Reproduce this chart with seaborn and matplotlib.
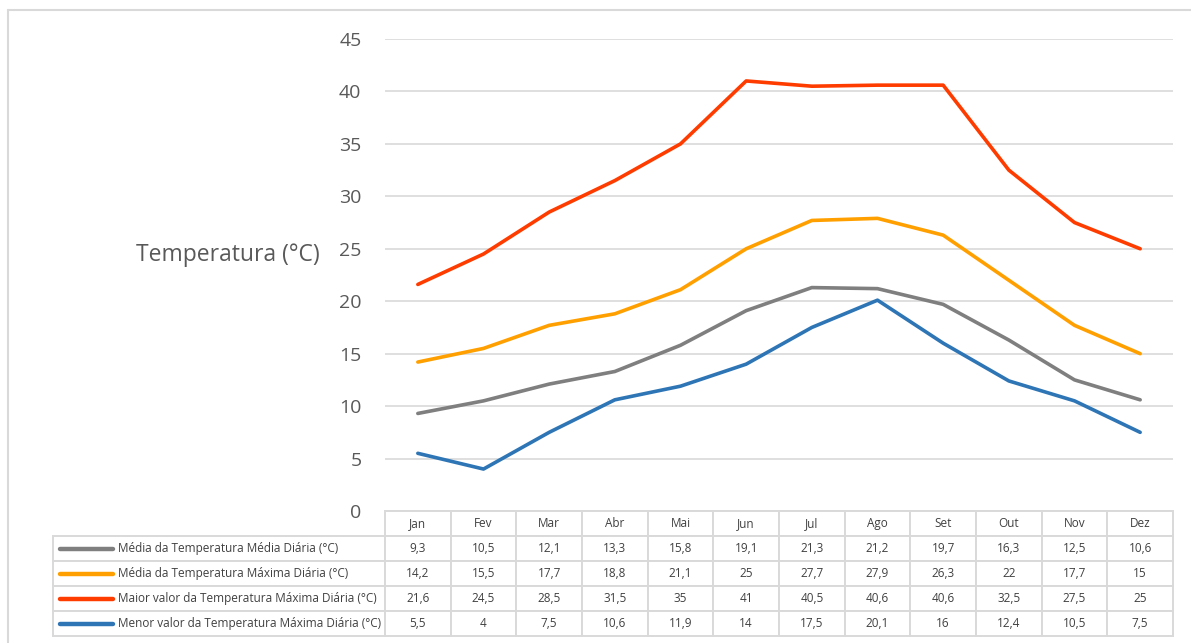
import matplotlib
matplotlib.use('Agg')
import matplotlib.pyplot as plt
import seaborn as sns
import pandas as pd
from matplotlib.lines import Line2D

months = ['Jan', 'Fev', 'Mar', 'Abr', 'Mai', 'Jun', 'Jul', 'Ago', 'Set', 'Out', 'Nov', 'Dez']
media_media = [9.3, 10.5, 12.1, 13.3, 15.8, 19.1, 21.3, 21.2, 19.7, 16.3, 12.5, 10.6]
media_maxima = [14.2, 15.5, 17.7, 18.8, 21.1, 25, 27.7, 27.9, 26.3, 22, 17.7, 15]
maior_maxima = [21.6, 24.5, 28.5, 31.5, 35, 41, 40.5, 40.6, 40.6, 32.5, 27.5, 25]
menor_maxima = [5.5, 4, 7.5, 10.6, 11.9, 14, 17.5, 20.1, 16, 12.4, 10.5, 7.5]

series_names = ['Média da Temperatura Média Diária (°C)',
                'Média da Temperatura Máxima Diária (°C)',
                'Maior valor da Temperatura Máxima Diária (°C)',
                'Menor valor da Temperatura Máxima Diária (°C)']
series_values = [media_media, media_maxima, maior_maxima, menor_maxima]
colors = ['#7f7f7f', '#ffa000', '#ff3c00', '#2e75b6']

sns.set_theme(style='white')
plt.rcParams['font.family'] = ['Open Sans', 'DejaVu Sans']

# long format for seaborn
df = pd.DataFrame({
    'Mes': months * len(series_names),
    'Serie': [n for n in series_names for _ in months],
    'Temp': [v for vals in series_values for v in vals],
})
df['x'] = df['Mes'].map({m: i for i, m in enumerate(months)})

fig = plt.figure(figsize=(11.91, 6.43), dpi=100)
ax = fig.add_axes([385 / 1191, 1 - 511 / 643, 788 / 1191, 472 / 643])

sns.lineplot(data=df, x='x', y='Temp', hue='Serie', hue_order=series_names,
             palette=colors, linewidth=2.6, ax=ax, legend=False, sort=False)

ax.set_xlim(-0.5, 11.5)
ax.set_ylim(0, 45)
ax.set_yticks(range(0, 50, 5))
ax.tick_params(axis='y', labelsize=14, labelcolor='#595959', length=0, pad=17)
ax.set_xticks([])
ax.set_xlabel('')
ax.set_ylabel('Temperatura (°C)', rotation=0, fontsize=16.5, color='#595959', labelpad=0)
ax.yaxis.set_label_coords(-0.2, 0.542)
ax.yaxis.label.set_verticalalignment('center')
ax.yaxis.label.set_horizontalalignment('center')
ax.grid(axis='y', color='#d9d9d9', linewidth=1.2)
for s in ax.spines.values():
    s.set_visible(False)

# data table below the plot
cell_text = [[''] + months]
for name, vals in zip(series_names, series_values):
    cell_text.append([name] + [('%g' % v).replace('.', ',') for v in vals])

first_w = 332 / 788
col_widths = [first_w] + [1 / 12] * 12
tbl = ax.table(cellText=cell_text, colWidths=col_widths,
               bbox=[-first_w, -125 / 472, 1 + first_w, 125 / 472], cellLoc='center')
tbl.auto_set_font_size(False)
for (r, c), cell in tbl.get_celld().items():
    cell.set_edgecolor('#d9d9d9')
    cell.set_linewidth(1.4)
    cell.get_text().set_fontsize(8.5)
    cell.get_text().set_color('#404040')
    if r == 0 and c == 0:
        cell.set_edgecolor('white')
        cell.set_linewidth(0)
        cell.visible_edges = ''
    if c == 0 and r > 0:
        cell.get_text().set_horizontalalignment('left')
        cell._loc = 'left'
        cell.PAD = 0.195

# legend keys drawn inside the first table column
row_h = 25 / 472
for i, col in enumerate(colors):
    yc = -row_h * (i + 1.5)
    ax.add_line(Line2D([(60 - 385) / 788, (113 - 385) / 788], [yc, yc],
                       transform=ax.transAxes, color=col, linewidth=3.2,
                       solid_capstyle='round', clip_on=False))

# thin frame around the chart area (top and left edges visible)
fig.add_artist(Line2D([8 / 1191, 1], [1 - 10 / 643] * 2, color='#d9d9d9', linewidth=1.5))
fig.add_artist(Line2D([8 / 1191] * 2, [0, 1 - 10 / 643], color='#d9d9d9', linewidth=1.5))

fig.savefig('out.png', dpi=100)
